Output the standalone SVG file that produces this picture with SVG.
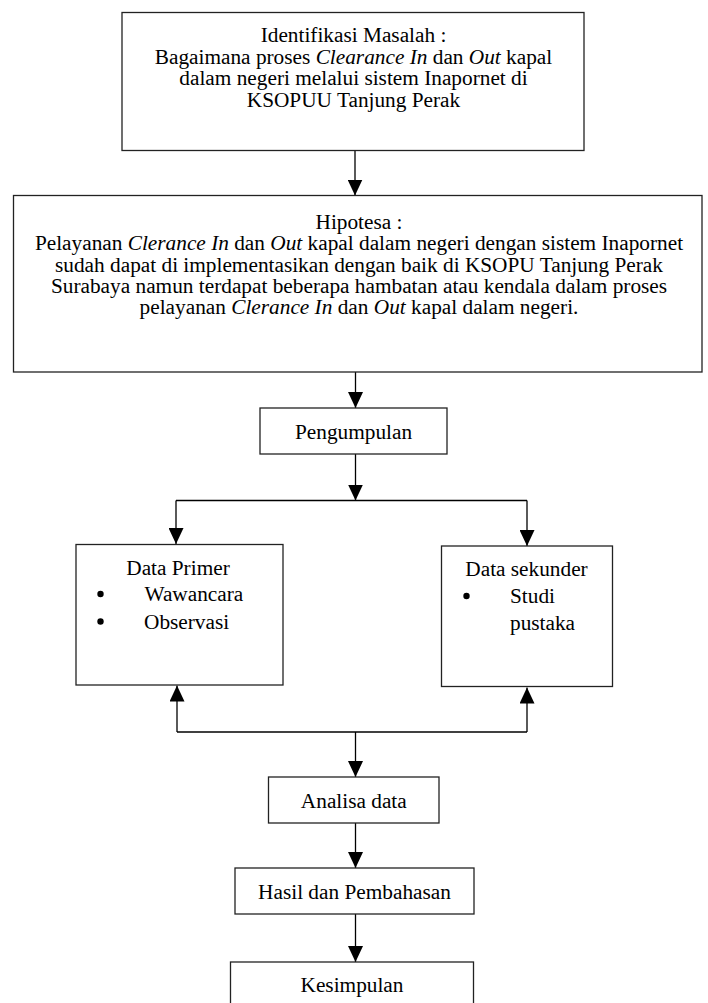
<svg xmlns="http://www.w3.org/2000/svg" width="708" height="1003" viewBox="0 0 708 1003">
<style>
  .box { fill: #ffffff; stroke: #222222; stroke-width: 1.3; }
  .conn { fill: none; stroke: #000000; stroke-width: 1.3; }
  text { font-family: "Liberation Serif", "Times New Roman", serif; font-size: 21.3px; fill: #000000; }
  .c { text-anchor: middle; }
  .i { font-style: italic; }
</style>
<defs>
  <marker id="arr" markerUnits="userSpaceOnUse" viewBox="0 0 16 15" markerWidth="16" markerHeight="15" refX="16" refY="7.5" orient="auto">
    <path d="M0,0 L16,7.5 L0,15 Z" fill="#000000"/>
  </marker>
</defs>
<rect width="708" height="1003" fill="#ffffff"/>

<g id="connectors">
  <line class="conn" x1="355" y1="151" x2="355" y2="195.5" marker-end="url(#arr)"/>
  <line class="conn" x1="355.5" y1="372" x2="355.5" y2="408" marker-end="url(#arr)"/>
  <line class="conn" x1="355.5" y1="454" x2="355.5" y2="500.5" marker-end="url(#arr)"/>
  <line class="conn" x1="176" y1="500.5" x2="527" y2="500.5"/>
  <line class="conn" x1="176" y1="500.5" x2="176" y2="544" marker-end="url(#arr)"/>
  <line class="conn" x1="527" y1="500.5" x2="527" y2="546" marker-end="url(#arr)"/>
  <line class="conn" x1="177" y1="732" x2="527" y2="732"/>
  <line class="conn" x1="177" y1="732" x2="177" y2="685.5" marker-end="url(#arr)"/>
  <line class="conn" x1="527" y1="732" x2="527" y2="687.5" marker-end="url(#arr)"/>
  <line class="conn" x1="355.5" y1="732" x2="355.5" y2="777" marker-end="url(#arr)"/>
  <line class="conn" x1="355.5" y1="823" x2="355.5" y2="868" marker-end="url(#arr)"/>
  <line class="conn" x1="355.5" y1="914" x2="355.5" y2="962" marker-end="url(#arr)"/>
</g>

<g id="identifikasi">
  <rect class="box" x="122" y="12.5" width="462" height="138"/>
  <text class="c" x="353.5" y="42">Identifikasi Masalah :</text>
  <text class="c" x="353.5" y="63.5">Bagaimana proses <tspan class="i">Clearance In</tspan> dan <tspan class="i">Out</tspan> kapal</text>
  <text class="c" x="353.5" y="85">dalam negeri melalui sistem Inapornet di</text>
  <text class="c" x="353.5" y="106.5">KSOPUU Tanjung Perak</text>
</g>

<g id="hipotesa">
  <rect class="box" x="13.5" y="195.5" width="688.5" height="176.5"/>
  <text class="c" x="359" y="228.5">Hipotesa :</text>
  <text class="c" x="359" y="250">Pelayanan <tspan class="i">Clerance In</tspan> dan <tspan class="i">Out</tspan> kapal dalam negeri dengan sistem Inapornet</text>
  <text class="c" x="359" y="271.5">sudah dapat di implementasikan dengan baik di KSOPU Tanjung Perak</text>
  <text class="c" x="359" y="292.5">Surabaya namun terdapat beberapa hambatan atau kendala dalam proses</text>
  <text class="c" x="359" y="313.5">pelayanan <tspan class="i">Clerance In</tspan> dan <tspan class="i">Out</tspan> kapal dalam negeri.</text>
</g>

<g id="pengumpulan">
  <rect class="box" x="260" y="408" width="187" height="46"/>
  <text class="c" x="353.5" y="438.5">Pengumpulan</text>
</g>

<g id="data-primer">
  <rect class="box" x="76" y="544.5" width="207" height="140.5"/>
  <text class="c" x="178" y="575">Data Primer</text>
  <circle cx="100.5" cy="594" r="3.2" fill="#000000"/>
  <text x="144.5" y="601">Wawancara</text>
  <circle cx="100.5" cy="621.5" r="3.2" fill="#000000"/>
  <text x="144" y="628.5">Observasi</text>
</g>

<g id="data-sekunder">
  <rect class="box" x="441.5" y="546" width="171" height="140.5"/>
  <text class="c" x="526.5" y="576">Data sekunder</text>
  <circle cx="466.5" cy="596" r="3.2" fill="#000000"/>
  <text x="510" y="602.5">Studi</text>
  <text x="510" y="629.5">pustaka</text>
</g>

<g id="analisa">
  <rect class="box" x="268.5" y="777" width="170.5" height="46"/>
  <text class="c" x="353.8" y="807.5">Analisa data</text>
</g>

<g id="hasil">
  <rect class="box" x="235" y="868" width="239" height="46"/>
  <text class="c" x="354.5" y="899">Hasil dan Pembahasan</text>
</g>

<g id="kesimpulan">
  <rect class="box" x="230.5" y="962" width="243" height="60"/>
  <text class="c" x="352" y="991.5">Kesimpulan</text>
</g>
</svg>
